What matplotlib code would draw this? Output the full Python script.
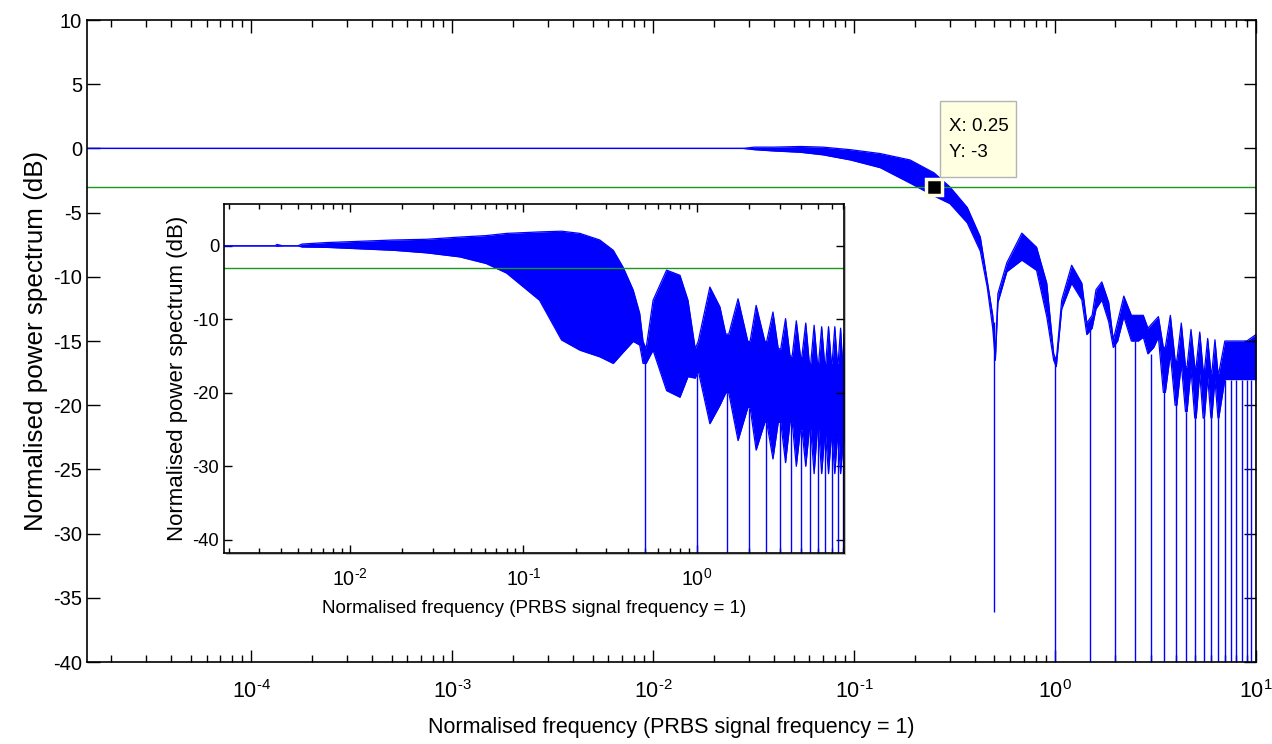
import numpy as np
import matplotlib
matplotlib.use('Agg')
import matplotlib.pyplot as plt
from matplotlib.ticker import LogLocator, NullFormatter, FuncFormatter
from matplotlib.patches import Rectangle
from matplotlib.transforms import ScaledTranslation

FONT = 'Liberation Sans'
plt.rcParams['font.family'] = [FONT, 'DejaVu Sans']
plt.rcParams['mathtext.fontset'] = 'custom'
plt.rcParams['mathtext.rm'] = FONT
plt.rcParams['mathtext.it'] = FONT + ':italic'
plt.rcParams['mathtext.bf'] = FONT + ':bold'
plt.rcParams['axes.unicode_minus'] = False

# ---------------- data ----------------
# main spectrum: upper / lower envelope of the dense trace (dB)
main_freq = [1.526e-5, 0.028, 0.032, 0.04, 0.054, 0.07, 0.096, 0.135, 0.19, 0.25,
             0.30, 0.366, 0.425, 0.46, 0.49, 0.505, 0.52, 0.576, 0.684, 0.81,
             0.91, 0.985, 1.015, 1.08, 1.21, 1.36, 1.44, 1.53, 1.6, 1.71,
             1.85, 1.95, 2.05, 2.2, 2.4, 2.6, 2.75, 2.9, 3.1, 3.27,
             3.46, 3.54, 3.75, 3.96, 4.04, 4.25, 4.46, 4.54, 4.75, 4.96,
             5.04, 5.25, 5.46, 5.54, 5.75, 5.97, 6.03, 6.25, 6.47, 6.53,
             7.0, 8.0, 9.0, 10.0]
main_upper = [0.0, 0.0, 0.1, 0.1, 0.15, 0.1, -0.1, -0.4, -0.9, -1.9,
              -3.0, -4.6, -6.9, -10.3, -13.0, -16.0, -11.3, -8.9, -6.6, -7.7,
              -10.5, -16.0, -16.5, -11.8, -9.1, -10.5, -13.6, -13.0, -11.0, -10.4,
              -12.0, -14.9, -13.5, -11.5, -13.0, -13.0, -13.0, -14.0, -13.5, -13.1,
              -15.5, -15.5, -13.0, -16.5, -16.5, -13.6, -17.0, -17.0, -14.1, -17.0,
              -17.0, -14.3, -17.3, -17.3, -14.8, -17.5, -17.5, -14.9, -17.5, -17.5,
              -15.0, -15.0, -15.0, -14.5]
main_lower = [0.0, 0.0, -0.1, -0.2, -0.3, -0.5, -0.9, -1.5, -2.7, -3.7,
              -4.3, -5.8, -8.0, -10.8, -14.0, -16.5, -12.0, -9.6, -8.7, -9.5,
              -13.1, -16.5, -17.0, -12.5, -10.5, -11.8, -14.5, -14.0, -12.5, -11.8,
              -13.5, -15.5, -15.0, -13.1, -15.0, -15.0, -14.7, -16.0, -15.5, -14.7,
              -19.0, -19.0, -16.0, -20.0, -20.0, -16.8, -20.5, -20.5, -17.2, -21.0,
              -21.0, -17.5, -21.0, -21.0, -17.8, -21.0, -21.0, -18.0, -21.0, -21.0,
              -18.0, -18.0, -18.0, -18.0]
main_null_freq = [0.5, 1.0, 1.5, 2.0, 2.5, 3.0, 3.5, 4.0, 4.5, 5.0,
                  5.5, 6.0, 6.5, 7.0, 7.5, 8.0, 8.5, 9.0, 9.5, 10.0]
main_null_top = [-13.5, -16.5, -14.0, -15.0, -15.0, -16.0, -19.0, -20.0, -20.5, -21.0,
                 -21.0, -21.0, -21.0, -18.0, -18.0, -18.0, -18.0, -18.0, -18.0, -18.0]
main_null_depth = [-36.1, -45, -45, -45, -45, -45, -45, -45, -45, -45,
                   -45, -45, -45, -45, -45, -45, -45, -45, -45, -45]

# inset spectrum (finer resolution)
inset_freq = [1.88e-3, 0.0037, 0.0038, 0.0041, 0.005, 0.0053, 0.0073, 0.0178, 0.0277, 0.043,
              0.061, 0.08, 0.124, 0.166, 0.212, 0.276, 0.33, 0.376, 0.43, 0.469,
              0.49, 0.51, 0.56, 0.67, 0.8, 0.89, 0.98, 1.02, 1.19, 1.36,
              1.47, 1.53, 1.73, 1.97, 2.03, 2.2, 2.47, 2.53, 2.75, 2.95,
              3.05, 3.25, 3.45, 3.55, 3.75, 3.96, 4.04, 4.25, 4.46, 4.54,
              4.75, 4.96, 5.04, 5.25, 5.46, 5.54, 5.75, 5.97, 6.03, 6.25,
              6.47, 6.53, 6.75, 6.97, 7.06]
inset_upper = [0.0, 0.0, 0.2, 0.0, 0.0, 0.25, 0.45, 0.8, 0.9, 1.2,
               1.4, 1.7, 1.9, 2.0, 1.7, 0.8, -0.6, -2.9, -6.0, -9.2,
               -13.0, -14.0, -7.4, -3.3, -4.0, -7.4, -14.0, -13.0, -5.6, -8.3,
               -12.0, -12.0, -7.2, -13.0, -13.0, -8.1, -13.0, -13.0, -9.0, -14.0,
               -14.0, -9.9, -15.0, -15.0, -10.2, -15.0, -15.0, -10.5, -16.0, -16.0,
               -10.8, -16.0, -16.0, -11.0, -16.0, -16.0, -11.0, -16.0, -16.0, -11.0,
               -16.0, -16.0, -11.2, -17.0, -12.0]
inset_lower = [0.0, 0.0, -0.05, 0.0, 0.0, -0.15, -0.2, -0.6, -0.95, -1.5,
               -2.4, -3.7, -7.4, -12.8, -14.2, -15.1, -16.0, -14.5, -13.0, -13.5,
               -16.0, -16.0, -14.2, -19.7, -20.6, -17.8, -18.0, -17.0, -24.2, -21.7,
               -20.0, -20.0, -26.5, -22.0, -22.0, -27.8, -24.0, -24.0, -29.0, -24.0,
               -24.0, -29.5, -24.0, -24.0, -30.0, -25.0, -25.0, -30.0, -25.0, -25.0,
               -31.0, -25.0, -25.0, -31.0, -26.0, -26.0, -31.0, -26.0, -26.0, -31.0,
               -26.0, -26.0, -31.0, -27.0, -27.0]
inset_null_freq = [0.5, 1.0, 1.5, 2.0, 2.5, 3.0, 3.5, 4.0, 4.5, 5.0, 5.5, 6.0, 6.5, 7.0]
inset_null_top = [-16.0, -17.5, -20.0, -22.0, -24.0, -24.0, -24.0, -25.0, -25.0, -25.0,
                  -26.0, -26.0, -26.0, -27.0]
inset_null_depth = [-50] * 14

cutoff_db = -3
tip_x = 0.25
tip_y = -3
tip_lines = ['X: 0.25', 'Y: -3']

BLUE = '#0000FF'
GREEN = '#1E961E'


def pow10_label(v, pos):
    e = int(round(np.log10(v)))
    s = str(e).replace('-', r'\text{-}')
    return r'$10^{%s}$' % s


def style_axes(a, lab, major_len, minor_len, pad):
    a.set_xscale('log')
    a.xaxis.set_major_locator(LogLocator(base=10, numticks=20))
    a.xaxis.set_minor_locator(LogLocator(base=10, subs=np.arange(2, 10), numticks=100))
    a.xaxis.set_major_formatter(FuncFormatter(pow10_label))
    a.xaxis.set_minor_formatter(NullFormatter())
    a.tick_params(which='both', direction='in', top=True, right=True, labelsize=lab, width=1.0)
    a.tick_params(which='major', length=major_len)
    a.tick_params(which='minor', length=minor_len)
    a.tick_params(axis='x', which='major', pad=pad, labelsize=lab + 1)
    for s in a.spines.values():
        s.set_linewidth(1.2)


# ---------------- figure ----------------
fig = plt.figure(figsize=(12.72, 7.44), dpi=100)
ax = fig.add_axes([0.0684, 0.1102, 0.919, 0.8629])

ax.fill_between(main_freq, main_lower, main_upper, color=BLUE, lw=0)
ax.plot(main_freq, main_upper, color=BLUE, lw=0.9)
ax.plot(main_freq, main_lower, color=BLUE, lw=0.9)
ax.vlines(main_null_freq, main_null_depth, main_null_top, color=BLUE, lw=1.0)
ax.axhline(cutoff_db, color=GREEN, lw=1.0)

style_axes(ax, 14.5, 9, 5, 13)
ax.set_xlim(1.526e-5, 10)
ax.set_ylim(-40, 10)
ax.set_yticks(list(range(-40, 11, 5)))
ax.set_xlabel('Normalised frequency (PRBS signal frequency = 1)', fontsize=15.5, labelpad=10)
ax.set_ylabel('Normalised power spectrum (dB)', fontsize=18.7, labelpad=4)

# data tip: marker + yellow box placed by pixel offsets from the data point
ax.plot([tip_x], [tip_y], marker='s', ms=11, color='black', mec='#FFFFE0', mew=2.5, zorder=6)
tip_trans = fig.dpi_scale_trans + ScaledTranslation(tip_x, tip_y, ax.transData)
ax.add_patch(Rectangle((0.06, 0.10), 0.76, 0.76, transform=tip_trans, fc='#FFFFE1',
                       ec='#B4B4B4', lw=1.0, zorder=7, clip_on=False))
ax.text(0.15, 0.60, tip_lines[0], transform=tip_trans, fontsize=13.5, va='center',
        ha='left', zorder=8)
ax.text(0.15, 0.34, tip_lines[1], transform=tip_trans, fontsize=13.5, va='center',
        ha='left', zorder=8)

# ---------------- inset ----------------
ai = fig.add_axes([0.1761, 0.2567, 0.4874, 0.4691])
shadow_trans = ai.transAxes + ScaledTranslation(2 / 100, -2 / 100, fig.dpi_scale_trans)
fig.patches.append(Rectangle((0, 0), 1, 1, transform=shadow_trans, fc='#BBBBBB', ec='none',
                             zorder=0.5))
ai.set_zorder(2)
ai.fill_between(inset_freq, inset_lower, inset_upper, color=BLUE, lw=0)
ai.plot(inset_freq, inset_upper, color=BLUE, lw=0.9)
ai.plot(inset_freq, inset_lower, color=BLUE, lw=0.9)
ai.vlines(inset_null_freq, inset_null_depth, inset_null_top, color=BLUE, lw=1.0)
ai.axhline(cutoff_db, color=GREEN, lw=1.0)
style_axes(ai, 13.2, 6, 3.5, 11)
ai.set_xlim(1.88e-3, 7.06)
ai.set_ylim(-41.8, 5.7)
ai.set_yticks([-40, -30, -20, -10, 0])
ai.set_xlabel('Normalised frequency (PRBS signal frequency = 1)', fontsize=13.5, labelpad=7)
ai.set_ylabel('Normalised power spectrum (dB)', fontsize=16, labelpad=3)

fig.savefig('out.png', dpi=100)
